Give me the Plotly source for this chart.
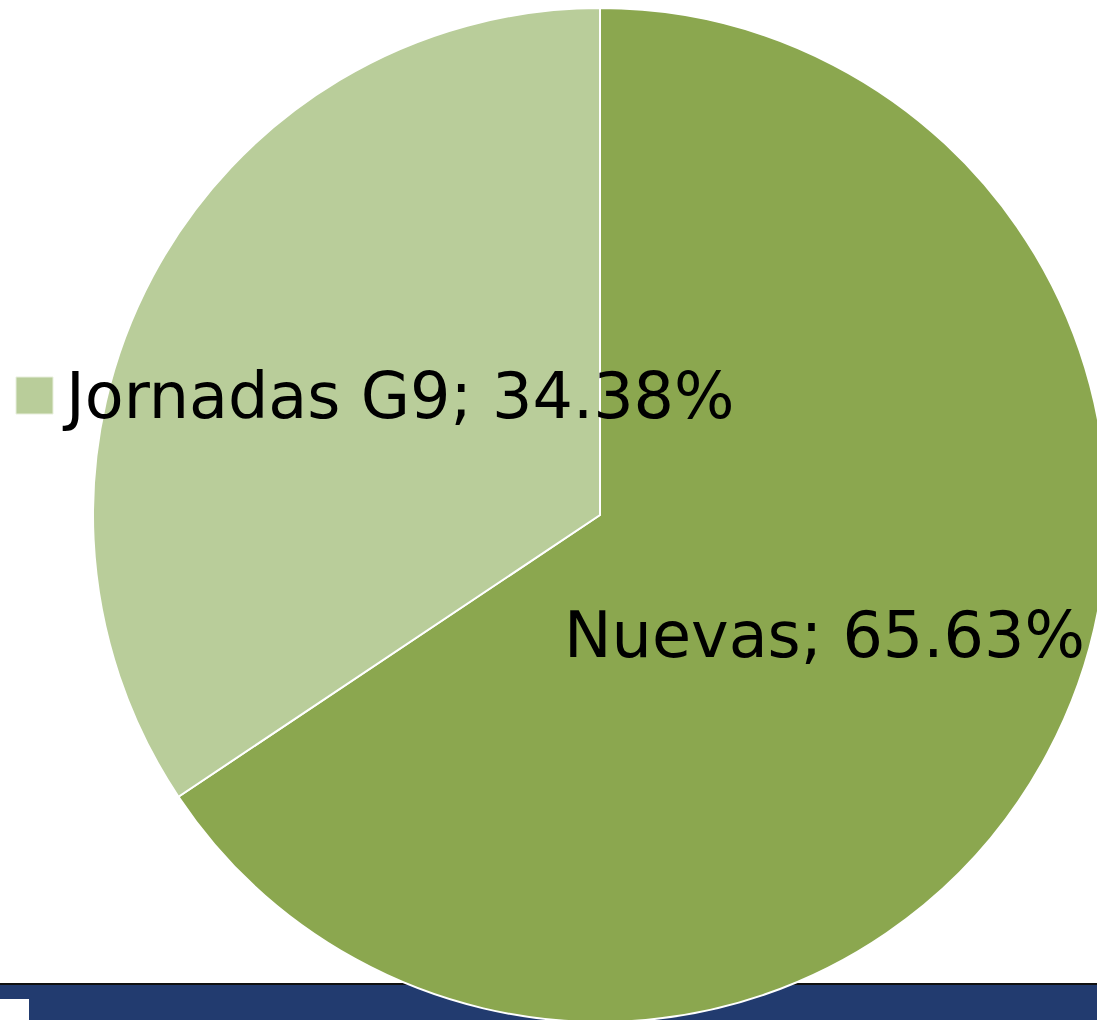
import plotly.graph_objects as go

labels = ["Nuevas", "Jornadas G9"]
values = [65.63, 34.38]
colors = ["#8BA74F", "#B9CD9A"]
label_texts = ["Nuevas; 65.63%", "Jornadas G9; 34.38%"]

W, H = 1120, 1030
cx, cy, r = 600, 515, 507

def px(x):
    return x / W

def py(y):
    return 1 - y / H

fig = go.Figure(go.Pie(
    labels=labels, values=values, sort=False, direction="clockwise", rotation=0,
    marker=dict(colors=colors, line=dict(color="white", width=2)),
    textinfo="none", hoverinfo="label+percent", showlegend=False,
    domain=dict(x=[px(cx - r), px(cx + r)], y=[py(cy + r), py(cy - r)]),
))

font = dict(family="DejaVu Sans", size=63.6, color="black")
fig.add_annotation(x=px(562), y=py(635), xref="paper", yref="paper", text=label_texts[0],
                   showarrow=False, xanchor="left", yanchor="middle", font=font)
fig.add_annotation(x=px(60), y=py(396), xref="paper", yref="paper", text=label_texts[1],
                   showarrow=False, xanchor="left", yanchor="middle", font=font)

shapes = [
    dict(type="rect", xref="paper", yref="paper", x0=0, x1=1, y0=py(1030), y1=py(984),
         fillcolor="#223B6F", line=dict(width=0), layer="below"),
    dict(type="line", xref="paper", yref="paper", x0=0, x1=1, y0=py(984), y1=py(984),
         line=dict(color="#111111", width=2), layer="below"),
    dict(type="rect", xref="paper", yref="paper", x0=0, x1=px(29), y0=py(1030), y1=py(999),
         fillcolor="white", line=dict(width=0), layer="below"),
    dict(type="rect", xref="paper", yref="paper", x0=px(16), x1=px(53), y0=py(414), y1=py(377),
         fillcolor=colors[1], line=dict(color="#E8EFDD", width=1), layer="above"),
]
fig.update_layout(width=W, height=H, margin=dict(l=0, r=0, t=0, b=0),
                  paper_bgcolor="white", plot_bgcolor="white", shapes=shapes)

fig.write_html("out.html", post_script="document.documentElement.style.overflow='hidden';document.body.style.overflow='hidden';document.body.style.margin='0';")
